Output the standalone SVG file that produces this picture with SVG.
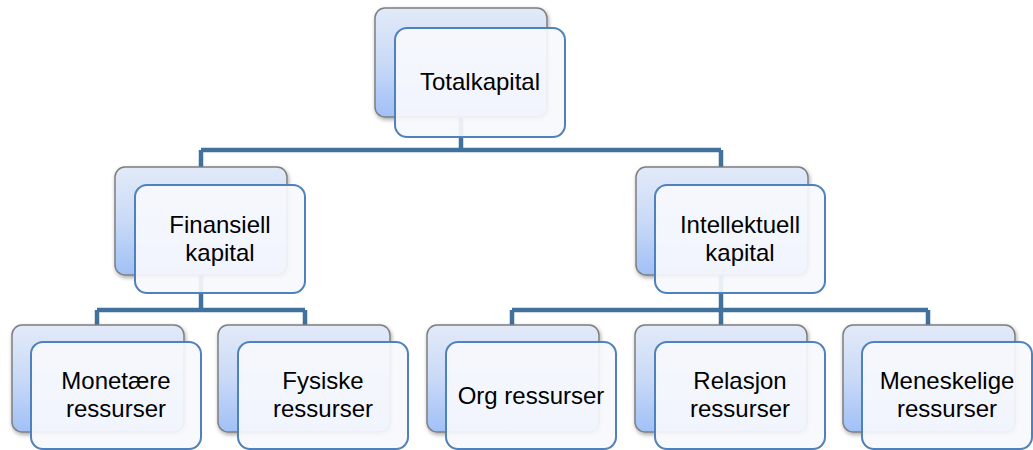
<svg xmlns="http://www.w3.org/2000/svg" width="1033" height="450" viewBox="0 0 1033 450">
<defs>
<linearGradient id="bg" x1="0" y1="0" x2="0" y2="1">
<stop offset="0" stop-color="#e2eaf8"/>
<stop offset="0.5" stop-color="#c9daf7"/>
<stop offset="1" stop-color="#a0c0f6"/>
</linearGradient>
<filter id="sh" x="-10%" y="-10%" width="130%" height="130%">
<feDropShadow dx="1" dy="2" stdDeviation="2" flood-color="#000" flood-opacity="0.35"/>
</filter>
<style>
.back{fill:url(#bg);stroke:#7f7f7f;stroke-width:1.5;filter:url(#sh)}
.front{fill:#f7f9fd;fill-opacity:0.92;stroke:#4f81bd;stroke-width:2}
.con{fill:none;stroke:#41719c;stroke-width:4.5;stroke-linejoin:miter}
text{font-family:"Liberation Sans",Arial,sans-serif;font-size:24px;fill:#000;text-anchor:middle}
</style>
</defs>
<rect width="1033" height="450" fill="#fff"/>
<g id="connectors">
<path class="con" d="M461 117 V150 M201 150 H721 M201 150 V167 M721 150 V167"/>
<path class="con" d="M201 275 V310 M97 310 H305 M97 310 V325 M305 310 V325"/>
<path class="con" d="M721 275 V310 M512 310 H928 M512 310 V325 M721 310 V325 M928 310 V325"/>
</g>
<g id="totalkapital">
<rect class="back" x="375" y="8" width="172" height="109" rx="10"/>
<rect class="front" x="395" y="28" width="170" height="109" rx="12"/>
<text x="480" y="90">Totalkapital</text>
</g>
<g id="finansiell">
<rect class="back" x="115" y="167" width="172" height="108" rx="10"/>
<rect class="front" x="135" y="185" width="170" height="108" rx="12"/>
<text x="220" y="233">Finansiell</text>
<text x="220" y="261">kapital</text>
</g>
<g id="intellektuell">
<rect class="back" x="636" y="167" width="172" height="108" rx="10"/>
<rect class="front" x="655" y="185" width="170" height="108" rx="12"/>
<text x="740" y="233">Intellektuell</text>
<text x="740" y="261">kapital</text>
</g>
<g id="monetaere">
<rect class="back" x="12" y="325" width="172" height="107" rx="10"/>
<rect class="front" x="31" y="342" width="170" height="107" rx="12"/>
<text x="116" y="389">Monetære</text>
<text x="116" y="417">ressurser</text>
</g>
<g id="fysiske">
<rect class="back" x="218" y="325" width="172" height="107" rx="10"/>
<rect class="front" x="238" y="342" width="170" height="107" rx="12"/>
<text x="323" y="389">Fysiske</text>
<text x="323" y="417">ressurser</text>
</g>
<g id="org">
<rect class="back" x="427" y="325" width="172" height="107" rx="10"/>
<rect class="front" x="446" y="342" width="170" height="107" rx="12"/>
<text x="531" y="404">Org ressurser</text>
</g>
<g id="relasjon">
<rect class="back" x="635" y="325" width="172" height="107" rx="10"/>
<rect class="front" x="655" y="342" width="170" height="107" rx="12"/>
<text x="740" y="389">Relasjon</text>
<text x="740" y="417">ressurser</text>
</g>
<g id="meneskelige">
<rect class="back" x="843" y="325" width="172" height="107" rx="10"/>
<rect class="front" x="862" y="342" width="170" height="107" rx="12"/>
<text x="947" y="389">Meneskelige</text>
<text x="947" y="417">ressurser</text>
</g>
</svg>
